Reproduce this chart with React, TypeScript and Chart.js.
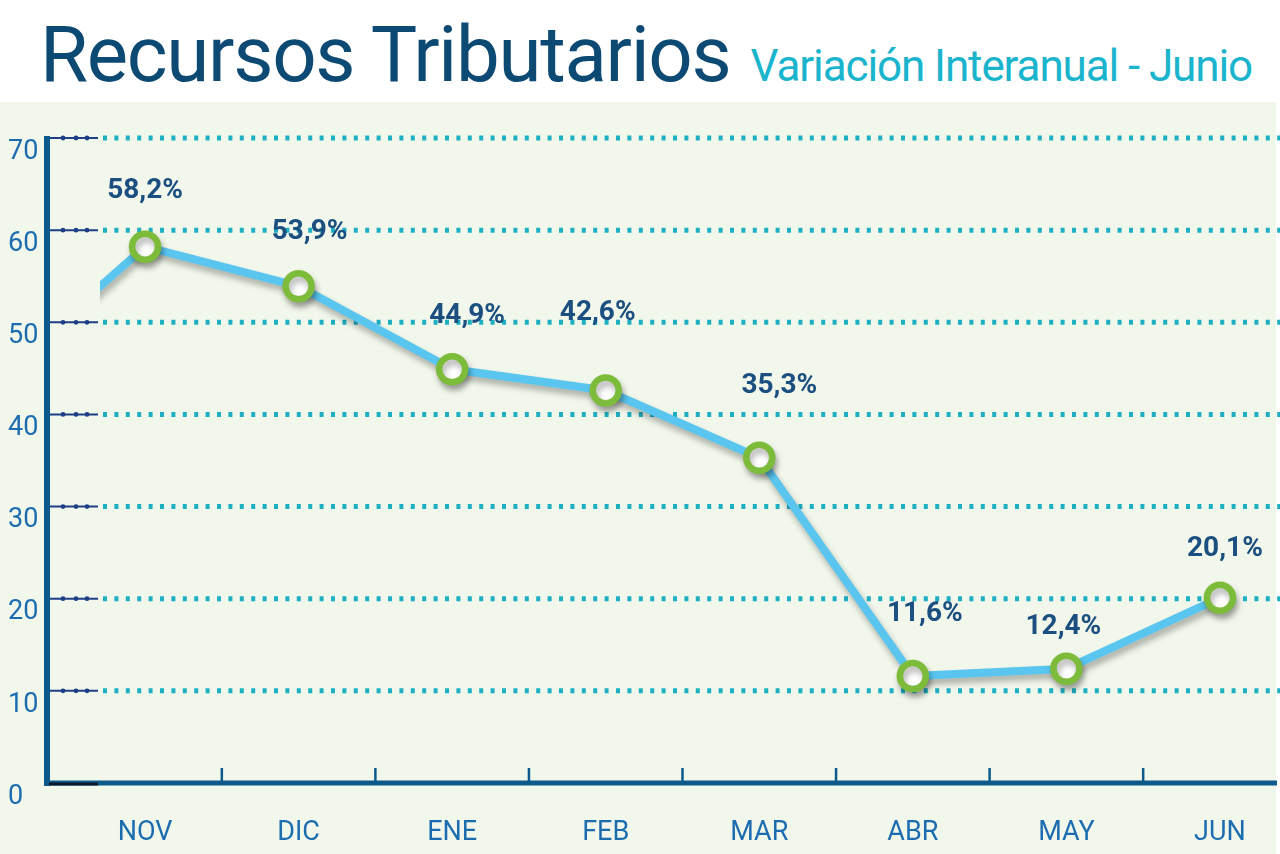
import React, { useEffect, useRef } from 'react';
import { Chart, registerables } from 'chart.js';

Chart.register(...registerables);

// OCT only feeds the line that enters from the left edge; its label is cut off
const categories = ['OCT', 'NOV', 'DIC', 'ENE', 'FEB', 'MAR', 'ABR', 'MAY', 'JUN'];
const variation = [43.5, 58.2, 53.9, 44.9, 42.6, 35.3, 11.6, 12.4, 20.1];
const yTicks = [0, 10, 20, 30, 40, 50, 60, 70];
const firstShown = 1;

// where each value label sits relative to its point (hand placed in the original)
const labelNudge: [number, number][] = [
  [0, 0], [0, -56], [11, -54], [15, -53], [-8, -77], [20, -72], [12, -62], [-3, -42], [5, -49],
];

const NAVY = '#0c5a8c';
const TEAL = '#1db0c2';

const axesPlugin = {
  id: 'axesDecor',
  beforeDatasetsDraw(chart: any) {
    const { ctx, chartArea, scales } = chart;
    const x = scales.x;
    const y = scales.y;
    const axisX = chartArea.left - 1;
    const innerEnd = chartArea.left + 48;
    ctx.save();

    // dotted grid + short dark ticks
    yTicks.filter((t) => t > 0).forEach((t) => {
      const py = y.getPixelForValue(t);
      ctx.setLineDash([4, 7.4]);
      ctx.strokeStyle = TEAL;
      ctx.lineWidth = 5;
      ctx.beginPath();
      ctx.moveTo(innerEnd + 5, py);
      ctx.lineTo(chart.width, py);
      ctx.stroke();
      ctx.setLineDash([]);

      ctx.strokeStyle = '#1d3f86';
      ctx.lineWidth = 2;
      ctx.beginPath();
      ctx.moveTo(axisX, py);
      ctx.lineTo(innerEnd, py);
      ctx.stroke();
      ctx.fillStyle = '#1d3f86';
      [14, 27, 38].forEach((d) => {
        ctx.beginPath();
        ctx.arc(axisX + d, py, 2.4, 0, Math.PI * 2);
        ctx.fill();
      });
    });

    // y axis line
    const y0 = y.getPixelForValue(0);
    const yTop = y.getPixelForValue(70);
    ctx.strokeStyle = NAVY;
    ctx.lineWidth = 6;
    ctx.beginPath();
    ctx.moveTo(axisX - 2, yTop - 2);
    ctx.lineTo(axisX - 2, y0 + 3);
    ctx.stroke();

    // x axis line
    ctx.lineWidth = 5;
    ctx.beginPath();
    ctx.moveTo(axisX - 2, y0);
    ctx.lineTo(chartArea.right + 1, y0);
    ctx.stroke();
    ctx.strokeStyle = '#0a1a2a';
    ctx.lineWidth = 3;
    ctx.beginPath();
    ctx.moveTo(axisX, y0 + 1);
    ctx.lineTo(innerEnd, y0 + 1);
    ctx.stroke();

    // tick marks between categories
    ctx.strokeStyle = NAVY;
    ctx.lineWidth = 2.5;
    for (let i = firstShown; i < categories.length - 1; i++) {
      const px = x.getPixelForValue(i + 0.5);
      ctx.beginPath();
      ctx.moveTo(px, y0 - 15);
      ctx.lineTo(px, y0);
      ctx.stroke();
    }
    ctx.restore();
  },
  afterDatasetsDraw(chart: any) {
    const { ctx } = chart;
    const meta = chart.getDatasetMeta(0);
    ctx.save();
    ctx.font = '700 28px Roboto';
    ctx.fillStyle = '#1b4f80';
    ctx.textAlign = 'center';
    ctx.textBaseline = 'middle';
    meta.data.forEach((pt: any, i: number) => {
      if (i < firstShown) return;
      const txt = variation[i].toFixed(1).replace('.', ',') + '%';
      ctx.fillText(txt, pt.x + labelNudge[i][0], pt.y + labelNudge[i][1]);
    });
    ctx.restore();
  },
};

const shadowPlugin = {
  id: 'lineShadow',
  beforeDatasetDraw(chart: any) {
    const { ctx } = chart;
    ctx.save();
    ctx.shadowColor = 'rgba(0,0,0,0.3)';
    ctx.shadowBlur = 6;
    ctx.shadowOffsetX = 2;
    ctx.shadowOffsetY = 5;
  },
  afterDatasetDraw(chart: any) {
    chart.ctx.restore();
  },
};

export const VariationChart: React.FC = () => {
  const chartRef = useRef<HTMLCanvasElement>(null);

  useEffect(() => {
    if (!chartRef.current) return;

    const config: any = {
      type: 'line',
      data: {
        datasets: [{
          label: 'Variación interanual',
          data: variation.map((v, i) => ({ x: i, y: v })),
          borderColor: '#5ac6ef',
          borderWidth: 8,
          pointBackgroundColor: '#ffffff',
          pointBorderColor: '#7cbc3a',
          pointBorderWidth: 6.5,
          pointRadius: 13,
          tension: 0,
          clip: { left: -50, top: false, right: false, bottom: false },
        }],
      },
      options: {
        animation: false,
        responsive: true,
        maintainAspectRatio: false,
        layout: { autoPadding: false, padding: { left: 8, top: 38, right: 4, bottom: 0 } },
        plugins: { legend: { display: false }, tooltip: { enabled: false } },
        scales: {
          x: {
            type: 'linear',
            min: 0.381,
            max: 8.365,
            afterBuildTicks: (scale: any) => {
              scale.ticks = categories.slice(firstShown).map((_, i) => ({ value: i + firstShown }));
            },
            afterFit: (scale: any) => {
              scale.height = 71;
              scale.paddingLeft = 0;
              scale.paddingRight = 0;
            },
            grid: { display: false, drawTicks: false },
            border: { display: false },
            ticks: {
              autoSkip: false,
              maxRotation: 0,
              padding: 34,
              color: '#1c6db0',
              font: { family: 'Roboto', size: 27 },
              callback: (value: any) => categories[value] ?? '',
            },
          },
          y: {
            min: 0,
            max: 70,
            afterBuildTicks: (scale: any) => {
              scale.ticks = yTicks.map((v) => ({ value: v }));
            },
            afterFit: (scale: any) => {
              scale.width = 42;
              scale.paddingTop = 0;
              scale.paddingBottom = 0;
            },
            grid: { display: false, drawTicks: false },
            border: { display: false },
            ticks: {
              crossAlign: 'far',
              labelOffset: 14,
              color: '#1c6db0',
              font: { family: 'Roboto', size: 27 },
            },
          },
        },
      },
      plugins: [axesPlugin, shadowPlugin],
    };

    const chartInstance = new Chart(chartRef.current, config);
    return () => {
      chartInstance.destroy();
    };
  }, []);

  return <canvas ref={chartRef}></canvas>;
};

export default function App() {
  return (
    <div style={{ position: 'fixed', left: 0, top: 0, width: 1280, height: 854, background: '#ffffff', overflow: 'hidden' }}>
      <div style={{ position: 'absolute', left: 40, top: 0, height: 100, display: 'flex', alignItems: 'baseline', whiteSpace: 'nowrap', fontFamily: 'Roboto' }}>
        <span style={{ fontSize: 78, color: '#0c4a74', letterSpacing: -1.3, lineHeight: '100px', position: 'relative', top: 5 }}>Recursos Tributarios</span>
        <span style={{ fontSize: 44, color: '#1ab4cd', letterSpacing: -1.1, marginLeft: 20, position: 'relative', top: 5 }}>Variación Interanual - Junio</span>
      </div>
      <div style={{ position: 'absolute', left: 0, top: 102, width: 1276, height: 752, background: '#f1f7eb' }} />
      <div style={{ position: 'absolute', left: 0, top: 100, width: 1280, height: 754 }}>
        <VariationChart />
      </div>
    </div>
  );
}
